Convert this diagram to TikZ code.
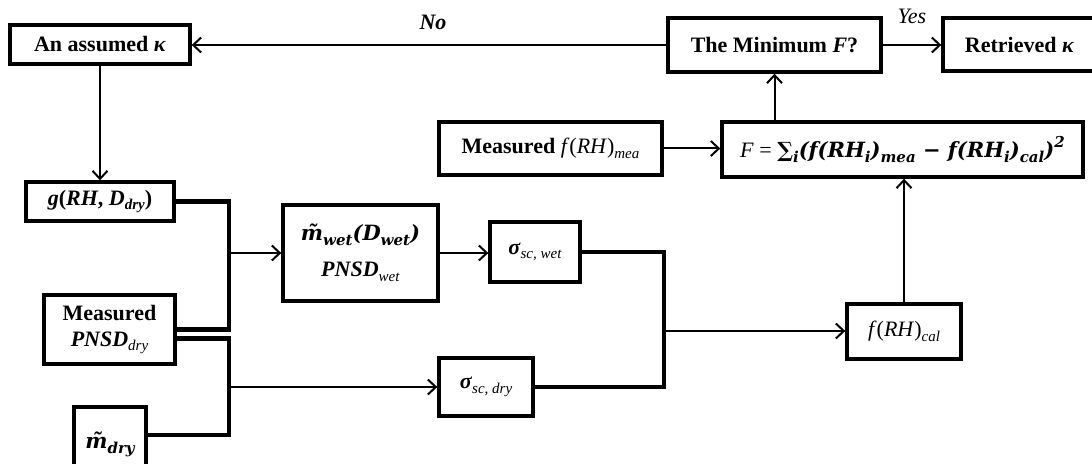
\documentclass[tikz,border=0pt]{standalone}
\usepackage{fontspec}
\setmainfont{Liberation Serif}
\newfontfamily\cm{DejaVu Serif}
\usetikzlibrary{arrows.meta}
\newcommand\lo[1]{\raisebox{-0.45ex}{\fontsize{7.5}{8}\selectfont #1}}
\newcommand\up[1]{\raisebox{0.9ex}{\fontsize{7.5}{8}\selectfont #1}}
\tikzset{
  bx/.style 2 args={draw, line width=1.7pt, minimum width=#1*0.5pt, minimum height=#2*0.5pt, inner sep=0pt, align=center, font=\fontsize{11}{13}\selectfont},
  arr/.style={line width=1pt, -{Straight Barb[length=4pt,width=7.5pt,line width=1pt]}},
  brk/.style={line width=2.2pt, line join=miter},
  lbl/.style={inner sep=0pt, font=\fontsize{11}{13}\selectfont}
}
\begin{document}
\begin{tikzpicture}[x=0.5pt, y=-0.5pt]
\fill[white] (0,0) rectangle (1092,464);
\useasboundingbox (0,0) rectangle (1092,464);
% nodes
\node[bx={180}{39}] (kappa) at (100,44.5) {\textbf{An assumed \textit{κ}}};
\node[bx={213}{54}] (minF) at (774.5,45) {\textbf{The Minimum \textit{F}?}};
\node[bx={153}{53}] (retr) at (1019.5,44.5) {\textbf{Retrieved \textit{κ}}};
\node[bx={223}{53}] (mea) at (550.5,148.5) {\textbf{Measured} \textit{f}(\textit{RH})\lo{\textit{mea}}};
\node[bx={361}{55}] (F) at (902.5,149.5) {\textit{F} = {\cm\bfseries\itshape\fontsize{10.5}{12}\selectfont ∑\lo{i}(\textit{f}(\textit{RH}\lo{i})\lo{mea} − \textit{f}(\textit{RH}\lo{i})\lo{cal})\up{2}}};
\node[bx={148}{39}] (g) at (100,201.5) {\textbf{\textit{g}(\textit{RH}, \textit{D}\lo{\textit{dry}})}};
\node[bx={155}{96}] (mwet) at (360.5,253) {{\cm\bfseries\itshape\fontsize{10.5}{12}\selectfont m̃\lo{wet}(D\lo{wet})}\\[5pt]\textbf{\textit{PNSD}}\lo{\textit{wet}}};
\node[bx={90}{60}] (swet) at (535,252) {\textbf{\textit{σ}}\lo{\textit{sc, wet}}};
\node[bx={131}{69}] (pnsd) at (109.5,329.5) {\textbf{Measured}\\\textbf{\textit{PNSD}}\lo{\textit{dry}}};
\node[bx={94}{58}] (sdry) at (486,387) {\textbf{\textit{σ}}\lo{\textit{sc, dry}}};
\node[bx={114}{55}] (fcal) at (904,331.5) {\textit{f}(\textit{RH})\lo{\textit{cal}}};
\node[bx={72}{75}] (mdry) at (110,444.5) {{\cm\bfseries\itshape\fontsize{10.5}{12}\selectfont m̃\lo{dry}}};
% labels
\node[lbl] (no) at (433,22) {\textbf{\textit{No}}};
\node[lbl] (yes) at (912,16) {\textit{Yes}};
% junctions
\coordinate (j1) at (229,253);
\coordinate (j2) at (229,387);
\coordinate (j3) at (664,331);
% connectors
\draw[arr] (minF.west) -- (minF.west -| kappa.east);
\draw[arr] (minF.east) -- (minF.east -| retr.west);
\draw[arr] (kappa.south) -- (g.north);
\draw[arr] (mea.east) -- (mea.east -| F.west);
\draw[arr] (minF.south |- F.north) -- (minF.south);
\draw[arr] (fcal.north) -- (fcal.north |- F.south);
\draw[brk] (g.east) -| (j1) |- (pnsd.east);
\draw[brk] ([yshift=-4.5pt]pnsd.east) -| (j2) |- ([yshift=4.75pt]mdry.east);
\draw[arr] (j1) -- (j1 -| mwet.west);
\draw[arr] (j2) -- (j2 -| sdry.west);
\draw[arr] (mwet.east) -- (mwet.east -| swet.west);
\draw[brk] (swet.east) -| (j3) |- (sdry.east);
\draw[arr] (j3) -- (j3 -| fcal.west);
\end{tikzpicture}
\end{document}
